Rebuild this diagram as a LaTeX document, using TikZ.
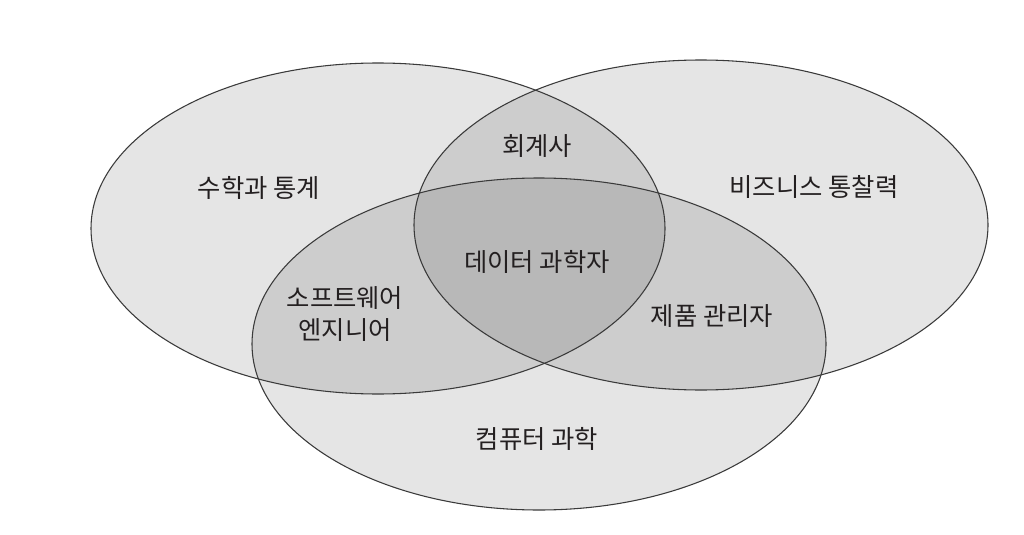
\documentclass[tikz,border=0pt]{standalone}
\usepackage{fontspec}
\setmainfont{Noto Sans CJK KR}
\definecolor{txt}{HTML}{231F20}
\definecolor{edge}{HTML}{3A3A3A}
\begin{document}
\begin{tikzpicture}[x=0.75pt,y=0.75pt,
  lab/.style={font=\fontsize{19}{23.5}\selectfont, text=txt, align=center, inner sep=0pt},
  setfill/.style={fill=black, fill opacity=0.1},
  setedge/.style={draw=edge, line width=0.8pt}]
\useasboundingbox[fill=white] (0,0) rectangle (1024,-535);
% fills
\fill[setfill] (378,-228.5) ellipse [x radius=287, y radius=165.5];
\fill[setfill] (701,-225) ellipse [x radius=287, y radius=165];
\fill[setfill] (539,-344) ellipse [x radius=287, y radius=166];
% outlines
\draw[setedge] (378,-228.5) ellipse [x radius=287, y radius=165.5];
\draw[setedge] (701,-225) ellipse [x radius=287, y radius=165];
\draw[setedge] (539,-344) ellipse [x radius=287, y radius=166];
% labels
\node[lab] (math) at (259,-188) {수학과 통계};
\node[lab] (acct) at (537,-146) {회계사};
\node[lab] (biz) at (814,-187) {비즈니스 통찰력};
\node[lab] (ds) at (537,-262) {데이터 과학자};
\node[lab] (swe) at (345,-314) {소프트웨어\\엔지니어};
\node[lab] (pm) at (712,-316) {제품 관리자};
\node[lab] (cs) at (537,-439) {컴퓨터 과학};
\end{tikzpicture}
\end{document}
